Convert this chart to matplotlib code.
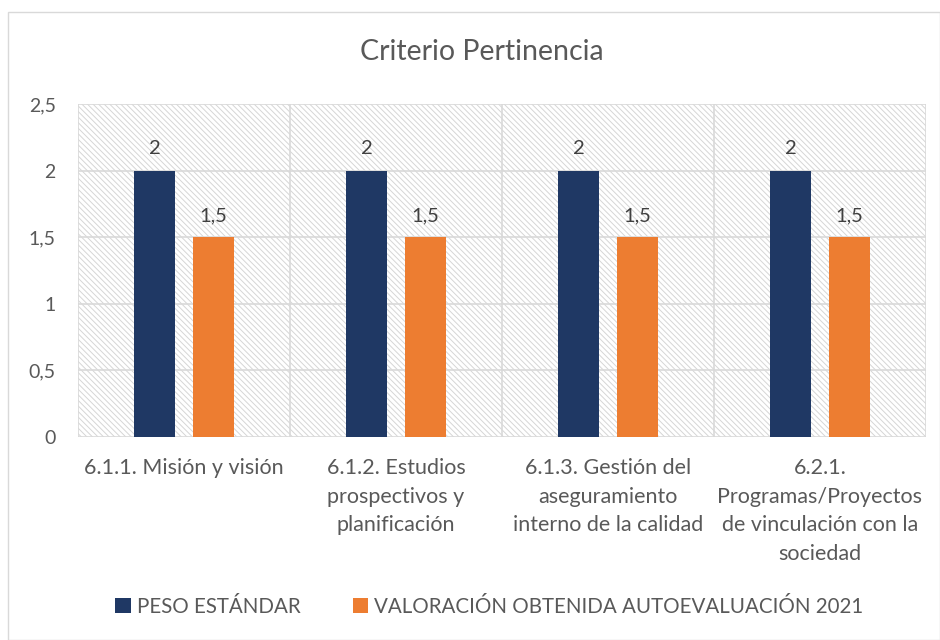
import matplotlib
matplotlib.use("Agg")
import matplotlib.pyplot as plt
import numpy as np
from matplotlib.patches import Rectangle

categories = ["6.1.1. Misión y visión",
              "6.1.2. Estudios\nprospectivos y\nplanificación",
              "6.1.3. Gestión del\naseguramiento\ninterno de la calidad",
              "6.2.1.\nProgramas/Proyectos\nde vinculación con la\nsociedad"]
series_names = ["PESO ESTÁNDAR", "VALORACIÓN OBTENIDA AUTOEVALUACIÓN 2021"]
peso = [2, 2, 2, 2]
valoracion = [1.5, 1.5, 1.5, 1.5]
yticks = [0, 0.5, 1, 1.5, 2, 2.5]
ytick_labels = ["0", "0,5", "1", "1,5", "2", "2,5"]

plt.rcParams['font.family'] = ['Lato', 'DejaVu Sans']
plt.rcParams['hatch.color'] = '#d6d6d6'
plt.rcParams['hatch.linewidth'] = 0.7

fig = plt.figure(figsize=(9.4, 6.4), dpi=100)
W, H = 940, 640
ax = fig.add_axes([78/W, 1-437/H, (926-78)/W, (437-104)/H])

# outer chart border
fig.patches.append(Rectangle((8/W, 0), 1-8/W, 1-12/H, transform=fig.transFigure,
                             fill=False, edgecolor='#d9d9d9', linewidth=1.0))

x = np.arange(len(categories))
w = 0.194
off = 0.139
ax.set_xlim(-0.5, len(categories)-0.5)
ax.set_ylim(0, 2.5)

# hatched background
ax.add_patch(Rectangle((0, 0), 1, 1, transform=ax.transAxes, facecolor='white',
                       hatch='\\\\\\\\\\\\', edgecolor='#d6d6d6', linewidth=0, zorder=0))

for yv in yticks:
    ax.axhline(yv, color='#d9d9d9', linewidth=1.2, zorder=1)
for xv in np.arange(-0.5, len(categories), 1.0):
    ax.axvline(xv, color='#d9d9d9', linewidth=1.2, zorder=1)

b1 = ax.bar(x - off, peso, w, color='#1f3864', zorder=3, label=series_names[0])
b2 = ax.bar(x + off, valoracion, w, color='#ed7d31', zorder=3, label=series_names[1])

for bars, vals in ((b1, peso), (b2, valoracion)):
    for rect, v in zip(bars, vals):
        ax.text(rect.get_x() + rect.get_width()/2, v + 0.1,
                f"{v:g}".replace('.', ','), ha='center', va='bottom',
                fontsize=14.5, color='#404040', zorder=4)

for s in ax.spines.values():
    s.set_visible(False)
ax.set_yticks(yticks)
ax.set_yticklabels(ytick_labels, fontsize=14, color='#595959')
ax.set_xticks(x)
ax.set_xticklabels(categories, fontsize=15.5, color='#595959', linespacing=1.55, va='top')
ax.tick_params(axis='y', length=0, pad=16)
ax.tick_params(axis='x', length=0, pad=15)

fig.text(0.5 + 12/W, 1-52/H, "Criterio Pertinencia", ha='center', va='center',
         fontsize=20.5, color='#595959')

fig.legend(handles=[b1, b2], labels=series_names, loc='center',
           bbox_to_anchor=(0.5 + 19.5/W, 1-607/H), ncol=2, frameon=False,
           fontsize=14.8, labelcolor='#595959', handlelength=0.75, handleheight=0.75,
           handletextpad=0.3, columnspacing=2.55)

fig.savefig("out.png", dpi=100)
